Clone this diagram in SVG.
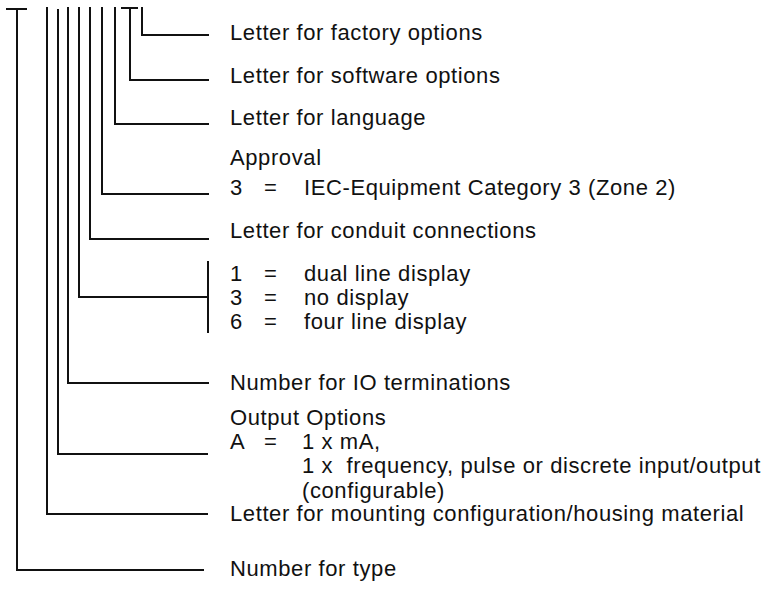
<svg xmlns="http://www.w3.org/2000/svg" width="781" height="596" viewBox="0 0 781 596">
<style>
.c{fill:none;stroke:#111;stroke-width:2;stroke-linecap:square}
.t{font-family:"Liberation Sans",Arial,sans-serif;font-size:22px;fill:#111;letter-spacing:0.6px}
</style>
<rect width="781" height="596" fill="#fff"/>
<g id="connectors">
<path class="c" d="M7 9H26M17 9V570H203"/>
<path class="c" d="M47 8V514H207"/>
<path class="c" d="M58 10V454H207"/>
<path class="c" d="M68 8V383H208"/>
<path class="c" d="M79 8V297H208"/>
<path class="c" d="M208 262V332"/>
<path class="c" d="M90 8V239H208"/>
<path class="c" d="M102 8V194H208"/>
<path class="c" d="M115 8V124H208"/>
<path class="c" d="M122 8H137M130 8V80H208"/>
<path class="c" d="M142 8V35H208"/>
</g>
<g id="factory"><text class="t" x="230" y="40">Letter for factory options</text></g>
<g id="software"><text class="t" x="230" y="83">Letter for software options</text></g>
<g id="language"><text class="t" x="230" y="125">Letter for language</text></g>
<g id="approval"><text class="t" x="230" y="165">Approval</text>
<text class="t" x="230" y="195">3</text><text class="t" x="264" y="195">=</text><text class="t" x="304" y="195">IEC-Equipment Category 3 (Zone 2)</text></g>
<g id="conduit"><text class="t" x="230" y="238">Letter for conduit connections</text></g>
<g id="display">
<text class="t" x="230" y="281">1</text><text class="t" x="264" y="281">=</text><text class="t" x="304" y="281">dual line display</text>
<text class="t" x="230" y="305">3</text><text class="t" x="264" y="305">=</text><text class="t" x="304" y="305">no display</text>
<text class="t" x="230" y="329">6</text><text class="t" x="264" y="329">=</text><text class="t" x="304" y="329">four line display</text>
</g>
<g id="io"><text class="t" x="230" y="390">Number for IO terminations</text></g>
<g id="output"><text class="t" x="230" y="425">Output Options</text>
<text class="t" x="230" y="449">A</text><text class="t" x="264" y="449">=</text><text class="t" x="302" y="449">1 x mA,</text>
<text class="t" x="302" y="473" xml:space="preserve">1 x  frequency, pulse or discrete input/output</text>
<text class="t" x="302" y="498">(configurable)</text></g>
<g id="mounting"><text class="t" x="230" y="521">Letter for mounting configuration/housing material</text></g>
<g id="type"><text class="t" x="230" y="576">Number for type</text></g>
</svg>
